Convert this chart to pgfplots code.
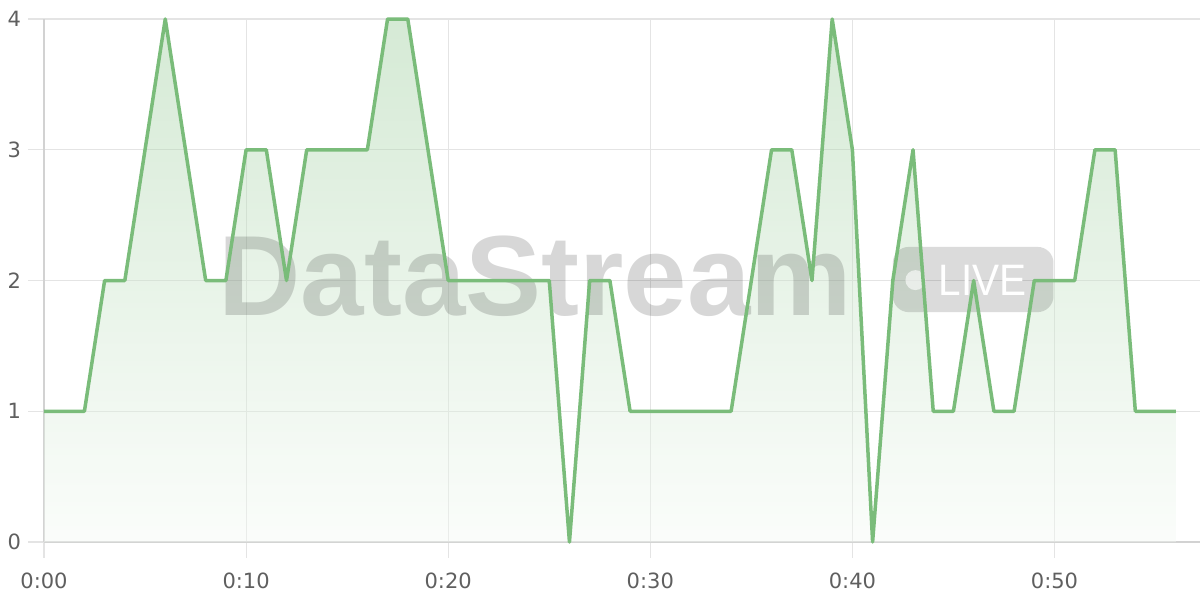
\documentclass[border=0pt]{standalone}
\usepackage{fontspec}
\setmainfont{Liberation Sans}
\newfontfamily\tickfont{DejaVu Sans}
\usepackage{pgfplots}
\pgfplotsset{compat=1.18}
\definecolor{linegreen}{RGB}{122,188,122}
\definecolor{gridgray}{RGB}{228,228,228}
\definecolor{axisgray}{RGB}{210,210,210}
\definecolor{ticktext}{RGB}{95,95,95}
\pgfplotstableread{
x y
0 1
1 1
2 1
3 2
4 2
5 3
6 4
7 3
8 2
9 2
10 3
11 3
12 2
13 3
14 3
15 3
16 3
17 4
18 4
19 3
20 2
21 2
22 2
23 2
24 2
25 2
26 0
27 2
28 2
29 1
30 1
31 1
32 1
33 1
34 1
35 2
36 3
37 3
38 2
39 4
40 3
41 0
42 2
43 3
44 1
45 1
46 2
47 1
48 1
49 2
50 2
51 2
52 3
53 3
54 1
55 1
56 1
}\datatable
\begin{document}
\begin{tikzpicture}
\begin{axis}[
  at={(22bp,29bp)}, anchor=south west,
  scale only axis, width=578bp, height=261.5bp,
  xmin=0, xmax=57.2, ymin=0, ymax=4,
  clip=false,
  axis x line*=bottom, axis y line*=left,
  axis line style={color=axisgray, line width=0.9bp},
  xtick={0,10,20,30,40,50},
  xticklabels={0:00,0:10,0:20,0:30,0:40,0:50},
  ytick={0,1,2,3,4},
  grid=major,
  major grid style={color=gridgray, line width=0.6bp},
  tick align=outside,
  major tick length=8bp,
  tick style={color=gridgray, line width=0.6bp},
  tick label style={font=\tickfont\fontsize{10.5bp}{12bp}\selectfont, text=ticktext},
  /pgf/number format/assume math mode=true,
  xticklabel style={yshift=-4bp},
  yticklabel style={xshift=0bp},
]
\addplot[draw=none, top color=linegreen!75!white, bottom color=linegreen!8!white, fill opacity=0.42] table[x=x,y=y]{\datatable} \closedcycle;
\node[anchor=base, inner sep=0pt, text=black, text opacity=0.155, font=\fontsize{57bp}{60bp}\selectfont\bfseries] at (axis cs:24.31,1.736) {DataStream};
\fill[black, fill opacity=0.14, rounded corners=8bp] (axis cs:42.0,1.758) rectangle (axis cs:49.95,2.257);
\fill[white, fill opacity=0.6] (axis cs:43.12,2.003) circle[radius=5bp];
\node[anchor=base west, inner sep=0pt, text=white, xscale=0.92, font=\fontsize{22bp}{24bp}\selectfont] at (axis cs:44.26,1.889) {LIVE};
\addplot[color=linegreen, line width=1.75bp, line join=round, mark=none] table[x=x,y=y]{\datatable};
\end{axis}
\pgfresetboundingbox
\path[use as bounding box] (0,0) rectangle (600bp,300bp);
\end{tikzpicture}
\end{document}
